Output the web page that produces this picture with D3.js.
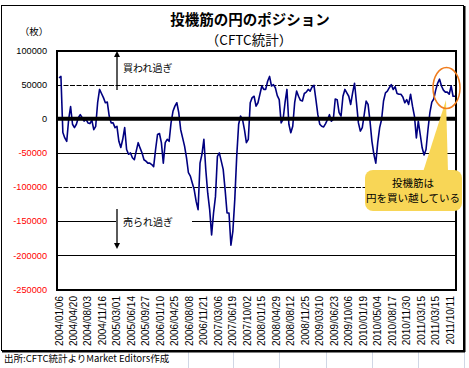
<!DOCTYPE html>
<html><head><meta charset="utf-8">
<script src="https://cdn.jsdelivr.net/npm/d3@7"></script>
<style>body{margin:0;background:#fff}svg{display:block}</style>
</head><body><svg id="c" width="469" height="368"></svg>
<script>
// ---- data ----
const xLabels = ["2004/01/06","2004/04/20","2004/08/03","2004/11/16","2005/03/01","2005/06/14","2005/09/27",
  "2006/01/10","2006/04/25","2006/08/08","2006/11/21","2007/03/06","2007/06/19","2007/10/02","2008/01/15",
  "2008/04/29","2008/08/12","2008/11/25","2009/03/10","2009/06/23","2009/10/06","2010/01/19","2010/05/04",
  "2010/08/17","2010/11/30","2011/03/15","2011/03/15","2011/10/11"];
const labelStepWeeks = 15;
const sampleStepWeeks = 2;
const yTicks = [100000,50000,0,-50000,-100000,-150000,-200000,-250000];
const solidLines = [-50000,-150000,-200000];
const dashedLines = [50000,-100000];
// net yen position (contracts), sampled every 2 weeks from 2004/01/06
const values = [
 60000,62000,-20000,-28000,-33000,-1000,18000,-8000,-13000,-8000,
 1500,6000,1500,-3500,-1000,-6000,-7000,-2000,-16000,-11000,
 23500,43000,37000,31000,23500,24500,4000,-6000,-6000,-13000,
 -11000,-33000,-42000,-30000,-13000,-45000,-52000,-50000,-57000,-60000,
 -47000,
 -35000,-43000,-50000,-60000,-62000,-65000,-65000,-67000,-70000,-45000,
 -23000,-21500,-35000,-65000,-35000,-30000,-33000,-6000,11000,18500,
 23500,9000,-16000,-28000,-40000,-57000,-79000,-84000,-94000,-104000,
 -121000,-133000,-65000,-52000,-30000,-75000,-109000,-133000,-170000,-138000,
 -114000,
 -55000,-50000,-62000,-74000,-104000,-138000,-138000,-185000,-165000,-118000,
 -55000,-8000,4000,-1000,-16000,-35000,-30000,23500,31000,33000,
 18500,23500,36000,48000,43000,43000,55000,62000,48000,50000,
 45500,34000,28000,-6000,-1000,23500,43000,-8000,-20500,-11000,
 23500,
 40500,33000,27000,26000,37000,39000,43000,40500,46500,49000,
 28000,6000,-8000,-11000,-12000,-7000,-1000,6000,-3500,-1000,
 29000,28000,9000,4000,33000,43000,38000,33000,21000,38000,
 52000,23500,-6000,-18000,-13000,6000,26000,21000,-3500,-33000,
 -52000,
 -65000,-35000,-13000,-1000,26000,38000,40500,45500,50000,43000,
 47000,37000,36000,36000,32000,23500,28000,21000,36000,18500,
 4000,-28000,-3500,-23000,-42500,-53000,-45000,-16000,9000,24500,
 29000,42000,52000,58000,48000,42000,39000,39000,36000,48000,
 33000,33000
];
const title = "投機筋の円のポジション";
const subtitle = "（CFTC統計）";
const unitLabel = "（枚）";
const overBought = "買われ過ぎ";
const overSold = "売られ過ぎ";
const calloutLines = ["投機筋は","円を買い越している"];
const sourceText = "出所:CFTC統計よりMarket Editors作成";

// ---- drawing ----
const svg = d3.select('#c');
const jp = "'Noto Sans CJK JP','Liberation Sans',sans-serif";
const num = "'Liberation Sans',Arial,sans-serif";
const P = {l:57, r:456, t:51, b:290};
const nWeeks = (values.length-1)*sampleStepWeeks;
const x = d3.scaleLinear().domain([0, nWeeks]).range([59, 455]);
const y = d3.scaleLinear().domain([-250000, 100000]).range([289.5, 50.5]);

svg.append('rect').attr('width',469).attr('height',368).attr('fill','#fff');

// spreadsheet cell lines below the chart
[188,233,279,326,372,418,464].forEach(cx=>{
  svg.append('line').attr('x1',cx+0.5).attr('x2',cx+0.5).attr('y1',352).attr('y2',368)
    .attr('stroke','#d0d7e5').attr('stroke-width',1);
});

// chart frame
svg.append('rect').attr('x',1.5).attr('y',5.5).attr('width',462).attr('height',345)
  .attr('fill','#fff').attr('stroke','#000').attr('stroke-width',1);
svg.append('line').attr('x1',464.5).attr('x2',464.5).attr('y1',6).attr('y2',352).attr('stroke','#000').attr('stroke-width',2);
svg.append('line').attr('x1',2).attr('x2',465).attr('y1',351.5).attr('y2',351.5).attr('stroke','#000').attr('stroke-width',2);

// titles
svg.append('text').attr('x',250).attr('y',25).attr('text-anchor','middle')
  .attr('font-family',jp).attr('font-weight','bold').attr('font-size',14.5).text(title);
svg.append('text').attr('x',249).attr('y',44.5).attr('text-anchor','middle')
  .attr('font-family',jp).attr('font-size',13.5).text(subtitle);
svg.append('text').attr('x',34).attr('y',35).attr('text-anchor','middle')
  .attr('font-family',jp).attr('font-size',9.5).text(unitLabel);

// grid lines
solidLines.forEach(v=>{
  svg.append('line').attr('x1',P.l).attr('x2',P.r).attr('y1',Math.round(y(v))+0.5).attr('y2',Math.round(y(v))+0.5)
    .attr('stroke','#000').attr('stroke-width',1);
});
dashedLines.forEach(v=>{
  svg.append('line').attr('x1',P.l).attr('x2',P.r).attr('y1',Math.round(y(v))+0.5).attr('y2',Math.round(y(v))+0.5)
    .attr('stroke','#000').attr('stroke-width',1).attr('stroke-dasharray','5,1.5');
});

// y axis labels
yTicks.forEach(v=>{
  svg.append('text').attr('x',47).attr('y',y(v)).attr('dy','0.35em').attr('text-anchor','end')
    .attr('font-family',num).attr('font-size',9.2).attr('fill', v<0 ? '#ff0000' : '#000')
    .text(v);
});

// x axis labels
xLabels.forEach((t,i)=>{
  const xx = x(i*labelStepWeeks);
  svg.append('text').attr('transform',`translate(${xx},296) rotate(-90)`)
    .attr('dy','0.35em').attr('text-anchor','end')
    .attr('font-family',num).attr('font-size',10).text(t);
});

// data line
const line = d3.line().x((d,i)=>x(i*sampleStepWeeks)).y(d=>y(d));
svg.append('path').datum(values).attr('d',line).attr('fill','none')
  .attr('stroke','#000080').attr('stroke-width',1.6).attr('stroke-linejoin','round');

// zero line
svg.append('line').attr('x1',P.l).attr('x2',P.r).attr('y1',y(0)).attr('y2',y(0))
  .attr('stroke','#000').attr('stroke-width',4);

// plot border
svg.append('rect').attr('x',P.l).attr('y',P.t).attr('width',P.r-P.l).attr('height',P.b-P.t)
  .attr('fill','none').attr('stroke','#000').attr('stroke-width',2);

// over-bought / over-sold annotations
const ax = 117;
svg.append('line').attr('x1',ax).attr('x2',ax).attr('y1',90).attr('y2',55).attr('stroke','#000').attr('stroke-width',1.3);
svg.append('path').attr('d',`M${ax},${51} L${ax-3},${57} L${ax+3},${57} Z`).attr('fill','#000');
svg.append('text').attr('x',123).attr('y',72).attr('font-family',jp).attr('font-size',10).text(overBought);

svg.append('rect').attr('x',116).attr('y',214).attr('width',76).attr('height',16).attr('fill','#fff');
svg.append('line').attr('x1',ax).attr('x2',ax).attr('y1',209).attr('y2',245).attr('stroke','#000').attr('stroke-width',1.3);
svg.append('path').attr('d',`M${ax},${249} L${ax-3},${243} L${ax+3},${243} Z`).attr('fill','#000');
svg.append('text').attr('x',123).attr('y',226).attr('font-family',jp).attr('font-size',10).text(overSold);

// callout
const yellow = '#f8d656';
svg.append('path').attr('d','M423,172 L446,100 L448,172 Z').attr('fill',yellow);
svg.append('rect').attr('x',365).attr('y',170).attr('width',97).attr('height',41).attr('rx',8)
  .attr('fill',yellow);
calloutLines.forEach((t,i)=>{
  svg.append('text').attr('x',413).attr('y',187+i*15).attr('text-anchor','middle')
    .attr('font-family',jp).attr('font-size',10.5).text(t);
});
svg.append('ellipse').attr('cx',446.5).attr('cy',88).attr('rx',13.5).attr('ry',20.5)
  .attr('fill','none').attr('stroke','#f07d1e').attr('stroke-width',1.5);

// source
svg.append('text').attr('x',4).attr('y',362).attr('font-family',jp).attr('font-size',9.5).text(sourceText);
</script></body></html>
